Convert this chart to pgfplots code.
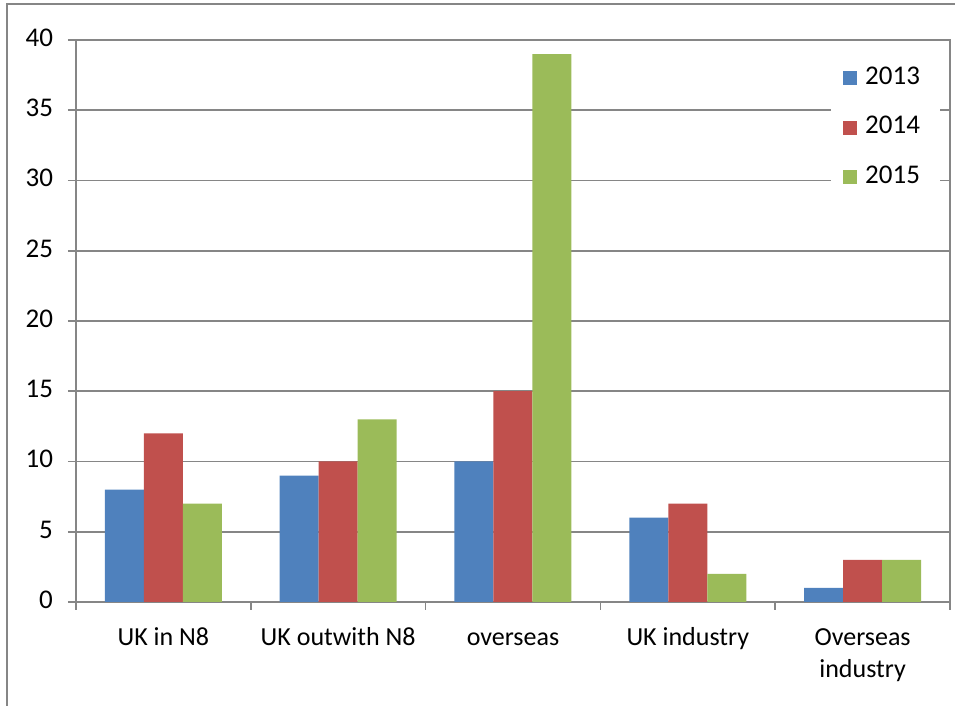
\documentclass[border=0pt]{standalone}
\usepackage{fontspec}
\setmainfont{Carlito}
\usepackage{pgfplots}
\pgfplotsset{compat=1.18}
\definecolor{cblue}{HTML}{4F81BD}
\definecolor{cred}{HTML}{C0504D}
\definecolor{cgreen}{HTML}{9BBB59}
\definecolor{cgrid}{HTML}{868686}
\begin{document}
\fontsize{13}{16}\selectfont
\begin{tikzpicture}
\useasboundingbox (-38pt,-52pt) rectangle (439.5pt,301pt);
\draw[cgrid, line width=0.8pt] (-34.5pt,-60pt) -- (-34.5pt,299pt) -- (450pt,299pt);
\begin{axis}[
  at={(0pt,0pt)}, anchor=south west,
  scale only axis, width=437pt, height=281pt,
  ybar=0pt, bar width=19.5pt,
  xmin=-0.5, xmax=4.5, ymin=0, ymax=40,
  xtick={0,1,2,3,4},
  xticklabels={UK in N8, UK outwith N8, overseas, UK industry, Overseas\\industry},
  minor xtick={-0.5,0.5,1.5,2.5,3.5,4.5},
  ytick={0,5,...,40},
  xtick pos=bottom, ytick pos=left,
  tick align=outside,
  major tick length=4pt, minor tick length=4pt,
  major x tick style={draw=none},
  minor x tick style={cgrid, line width=0.8pt},
  major y tick style={cgrid, line width=0.8pt},
  ymajorgrids,
  grid style={cgrid, line width=0.8pt},
  axis line style={cgrid, line width=0.8pt},
  /pgf/number format/assume math mode=true,
  typeset ticklabels with strut,
  xticklabel style={align=center, font=\fontsize{13}{16}\selectfont, text=black, yshift=-2pt},
  yticklabel style={font=\fontsize{13.5}{16}\selectfont, text=black, xshift=-3pt},
  legend style={at={(0.989,0.979)}, anchor=north east, draw=none, fill=white,
    font=\fontsize{13.5}{16}\selectfont, row sep=8.75pt, inner xsep=6pt, inner ysep=5pt,
    nodes={inner xsep=4pt, text height=9pt, text depth=3pt}},
  legend cell align=left,
  legend image code/.code={\fill[#1] (0pt,-3.5pt) rectangle (7pt,3.5pt);},
]
\addplot[fill=cblue, draw=none] coordinates {(0,8) (1,9) (2,10) (3,6) (4,1)};
\addplot[fill=cred, draw=none] coordinates {(0,12) (1,10) (2,15) (3,7) (4,3)};
\addplot[fill=cgreen, draw=none] coordinates {(0,7) (1,13) (2,39) (3,2) (4,3)};
\legend{2013,2014,2015}
\end{axis}
\end{tikzpicture}
\end{document}
